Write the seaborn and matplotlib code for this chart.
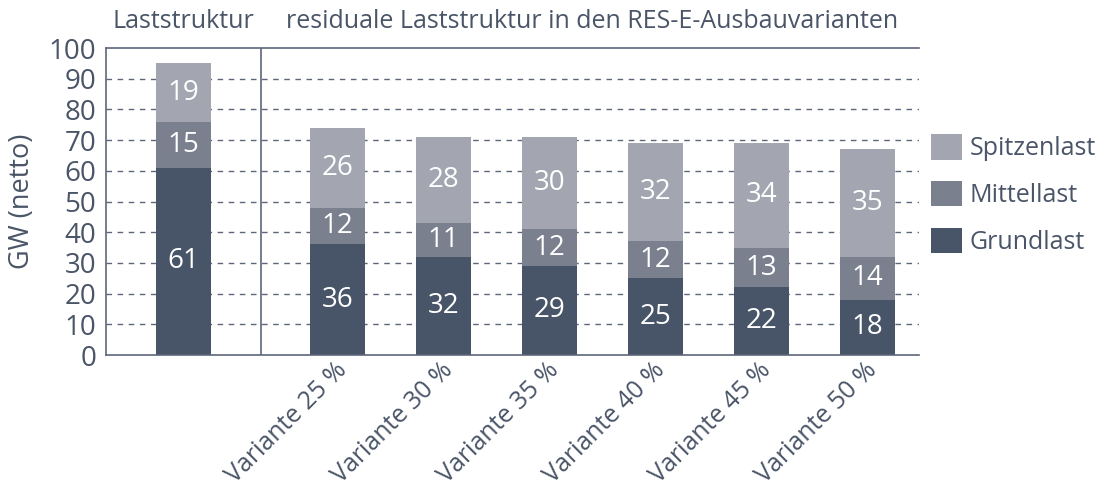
import numpy as np
import pandas as pd
import matplotlib.pyplot as plt
import matplotlib.transforms as mtransforms
import seaborn as sns
from matplotlib.patches import Patch

# data
categories = ["", "Variante 25 %", "Variante 30 %", "Variante 35 %",
              "Variante 40 %", "Variante 45 %", "Variante 50 %"]
grundlast = [61, 36, 32, 29, 25, 22, 18]
mittellast = [15, 12, 11, 12, 12, 13, 14]
spitzenlast = [19, 26, 28, 30, 32, 34, 35]

series_names = ["Spitzenlast", "Mittellast", "Grundlast"]
colors = {"Spitzenlast": "#a3a6b1", "Mittellast": "#7a808e", "Grundlast": "#485467"}
text_col = "#4a5568"
line_col = "#5d6678"

sns.set_style("white")
plt.rcParams["font.family"] = ["Open Sans", "DejaVu Sans"]

# the first bar (Laststruktur) sits apart from the variants
pos = [-1.45, 0, 1, 2, 3, 4, 5]

df = pd.DataFrame({"pos": pos, "cat": categories,
                   "Grundlast": grundlast, "Mittellast": mittellast,
                   "Spitzenlast": spitzenlast})
df["top_mittel"] = df["Grundlast"] + df["Mittellast"]
df["top_spitze"] = df["top_mittel"] + df["Spitzenlast"]

fig = plt.figure(figsize=(11.05, 4.93), dpi=100)
ax = fig.add_axes([0.0959, 0.2799, 0.7358, 0.6227])

# dashed grid
for yv in range(10, 100, 10):
    ax.axhline(yv, color=line_col, lw=1, ls=(0, (4, 4)), zorder=0)

# stacked bars by drawing the cumulative totals back to front
for col, name in [("top_spitze", "Spitzenlast"), ("top_mittel", "Mittellast"),
                  ("Grundlast", "Grundlast")]:
    sns.barplot(data=df, x="pos", y=col, native_scale=True, width=0.52,
                color=colors[name], saturation=1, edgecolor="none",
                linewidth=0, ax=ax, zorder=2)

# value labels
for i, row in df.iterrows():
    for base, val in [(0, row["Grundlast"]), (row["Grundlast"], row["Mittellast"]),
                      (row["top_mittel"], row["Spitzenlast"])]:
        ax.text(row["pos"], base + val / 2, f"{val}", color="white",
                ha="center", va="center", fontsize=20, zorder=3)

ax.set_xlim(-2.184, 5.486)
ax.set_ylim(0, 100)
ax.set_yticks(range(0, 101, 10))
ax.tick_params(axis="y", labelsize=20, colors=text_col, length=0, pad=7)
ax.set_xticks(pos[1:])
ax.set_xticklabels(categories[1:], rotation=45, ha="right", va="center",
                   rotation_mode="anchor", fontsize=18, color=text_col)
ax.tick_params(axis="x", length=0, pad=8)
shift = mtransforms.ScaledTranslation(6 / 100, 0, fig.dpi_scale_trans)
for lab in ax.get_xticklabels():
    lab.set_transform(lab.get_transform() + shift)
ax.set_xlabel("")
ax.set_ylabel("GW (netto)", fontsize=19.5, color=text_col, labelpad=9)

for s in ["left", "bottom", "top"]:
    ax.spines[s].set_color(line_col)
    ax.spines[s].set_linewidth(1.2)
ax.spines["right"].set_visible(False)
ax.axvline(-0.722, color=line_col, lw=1.2, zorder=1)

fig.text(183 / 1105, 1 - 22 / 493, "Laststruktur", ha="center", va="center",
         fontsize=18, color=text_col)
fig.text(592 / 1105, 1 - 22 / 493, "residuale Laststruktur in den RES-E-Ausbauvarianten",
         ha="center", va="center", fontsize=18, color=text_col)

handles = [Patch(facecolor=colors[n], edgecolor="none") for n in series_names]
fig.legend(handles, series_names, loc="upper left", bbox_to_anchor=(0.8425, 0.728),
           frameon=False, fontsize=18, labelcolor=text_col, handlelength=1.25,
           handleheight=1.2, handletextpad=0.3, labelspacing=0.78,
           borderpad=0, borderaxespad=0)

fig.savefig("out.png", dpi=100)
